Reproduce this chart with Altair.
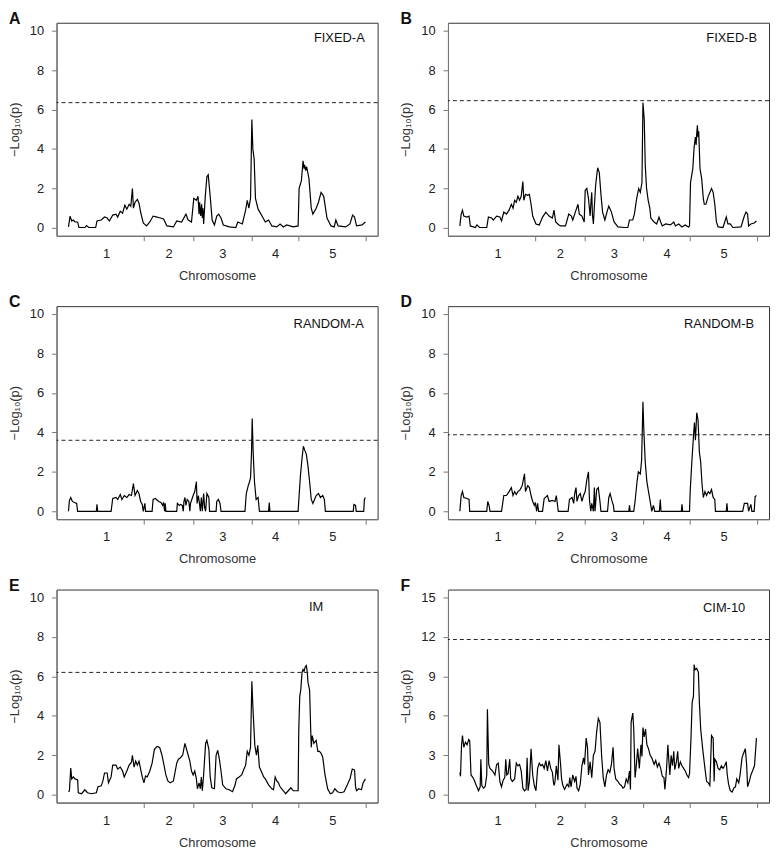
import altair as alt
import pandas as pd

FONT = "Liberation Sans"
CHROM_NAMES = ["1", "2", "3", "4", "5"]
CHROM_LEN_CM = [115, 75, 89, 72, 102]

# (cumulative position in cM, -log10 p)
FIXED_A = [(0,0.05),(2.5,0.6),(5,0.35),(7.5,0.4),(10,0.3),(14,0.3),(16,0.02),(25,0.02),(27.5,0.12),(31,0.02),
 (41.5,0.02),(43.5,0.35),(50,0.4),(55,0.55),(59,0.5),(62.5,0.35),(67.5,0.65),(72.5,0.7),(75,0.55),(79,0.85),
 (82.5,0.75),(86,1.15),(89,0.95),(92.5,1.2),(95,1.1),(97.5,2.0),(99,1.0),(101.5,1.3),(105,1.45),(107.5,1.25),
 (110,0.8),(114,0.25),(119,0.1),(124,0.3),(129,0.6),(135,0.55),(145,0.45),(150,0.1),(160,0.05),(165,0.35),
 (172.5,0.3),(179,0.7),(182.5,0.4),(187.5,0.3),(191,1.5),(195,1.4),(197.5,1.6),(199,0.7),(200,1.3),(201.5,0.6),
 (203,1.2),(204,0.5),(205,1.0),(206,0.2),(208.5,1.6),(211,2.6),(213,2.7),(216,1.6),(219,0.4),(222.5,0.15),
 (226,0.6),(229,0.7),(232.5,0.5),(236,0.15),(245,0.05),(255,0.02),(258,0.3),(265,0.2),(270,0.9),(272.5,1.4),
 (275,1.0),(277.5,1.5),(279.5,5.5),(281,4.0),(283,3.5),(285,1.5),(289,0.95),(295,0.6),(300,0.3),(305,0.4),
 (310,0.1),(317.5,0.05),(322.5,0.2),(327.5,0.05),(332.5,0.15),(342.5,0.05),(350,0.1),(351.5,2.0),(355,2.4),(357.5,3.4),
 (359,3.0),(360,3.2),(361.5,2.9),(363,3.1),(366.5,2.5),(370,1.0),(372.5,0.7),(377.5,1.0),(381,1.3),(385,1.8),
 (389,1.6),(394,0.5),(400,0.1),(405,0.05),(407.5,0.4),(411,0.1),(422.5,0.05),(429,0.2),(433,0.65),(436,0.55),
 (439,0.1),(447.5,0.15),(452.5,0.3)]

FIXED_B = [(0,0.1),(2,0.7),(4,0.9),(6,0.6),(11,0.55),(14,0.6),(16,0.1),(23.5,0.02),(26,0.15),(30,0.02),
 (41,0.02),(43.5,0.55),(48.5,0.5),(51,0.4),(56,0.6),(61,0.55),(63.5,0.35),(67,0.8),(71,0.7),(75,0.9),
 (78.5,1.2),(81,1.0),(83.5,1.4),(86,1.3),(88.5,1.6),(91,1.4),(93.5,1.6),(96,2.35),(97.5,1.4),(100,1.7),
 (103.5,1.65),(106,1.7),(108.5,1.2),(111,0.6),(116,0.2),(121,0.15),(126,0.55),(131,0.8),(136,0.6),(141,0.5),
 (143.5,0.9),(146,0.3),(151,0.15),(153.5,0.1),(161,0.1),(166,0.7),(170,0.6),(172,0.4),(176,0.8),(180,1.2),
 (182,0.7),(186,0.6),(189.5,0.3),(191,1.9),(193.5,2.0),(196,1.5),(198.5,0.6),(200,1.4),(201,1.8),(202,0.7),
 (203.5,0.2),(205,1.1),(207,2.2),(210,3.05),(212.5,2.8),(215,1.7),(217.5,0.8),(221,0.4),(225,0.9),(227,1.1),
 (231,0.8),(235,0.3),(241,0.05),(251,0.02),(256,0.02),(258.5,0.4),(263.5,0.4),(266,0.7),(269.5,1.5),(272.5,2.0),
 (275,1.8),(277.5,2.3),(279,6.35),(281,5.5),(282.5,3.2),(284.5,2.0),(287,1.4),(289.5,1.0),(291,0.5),(296,0.3),
 (300,0.2),(303.5,0.55),(306,0.3),(308.5,0.1),(313.5,0.2),(321,0.15),(326,0.3),(328.5,0.1),(333.5,0.2),(338.5,0.05),
 (343.5,0.15),(348.5,0.05),(350,0.1),(351.5,2.3),(355,3.0),(357,4.1),(359,4.6),(360,4.2),(361,4.8),(362,5.2),
 (363,4.6),(364,4.9),(366,3.0),(368.5,2.5),(371,1.5),(372.5,1.2),(375,1.2),(378.5,1.6),(383.5,2.0),(386,1.8),
 (388.5,1.2),(391,0.3),(393.5,0.05),(401,0.02),(406,0.55),(408.5,0.2),(412,0.2),(416,0.02),(428.5,0.05),(433.5,0.6),
 (436,0.8),(438.5,0.7),(440,0.1),(443.5,0.2),(448.5,0.25),(452,0.35)]

RANDOM_A = [(0,0),(1.5,0.55),(3.5,0.7),(6,0.5),(9,0.45),(12.5,0.4),(14,0),(42.5,0),(43.5,0.35),(44.5,0),
 (65,0),(67.5,0.65),(72.5,0.7),(75,0.6),(79,0.85),(81.5,0.6),(85,0.8),(89,0.7),(92.5,0.85),(96,0.8),
 (99,1.4),(101.5,0.8),(105,1.05),(107.5,0.9),(110,0.5),(112.5,0.35),(114,0),(116.5,0.4),(117.5,0),(127.5,0),
 (129,0.6),(132.5,0.65),(137.5,0.5),(141,0.45),(143.5,0.3),(145,0.45),(146.5,0),(147.5,0.4),(148.5,0),(165,0),
 (166,0.4),(169,0.3),(171,0.35),(173.5,0.3),(175,0),(176,0.5),(177.5,0.7),(179,0.3),(181,0.6),(183.5,0.5),
 (185,0),(186,0.4),(188,0.6),(190,0.8),(192.5,1.0),(195,1.5),(196,0.4),(198,0.8),(200,0.3),(201,0),
 (202.5,0.7),(204,0),(206,0.9),(207.5,0.2),(209,0),(211,0.9),(214,0.7),(215,0),(225,0),(226,0.5),
 (228.5,0.6),(231,0.4),(232.5,0),(269,0),(271,0.9),(274,1.3),(276,1.5),(277.5,1.7),(279,3.0),(280,4.7),
 (281.5,3.0),(283.5,1.5),(286,0.6),(289,0.7),(291,0),(305,0),(306,0.45),(307,0),(350,0),(351.5,0.8),
 (353.5,1.8),(356,2.7),(358,3.3),(360,3.1),(362.5,2.9),(365,2.3),(367.5,1.5),(370,0.6),(372.5,0.4),(375,0.6),
 (377.5,0.8),(381,0.9),(384,0.7),(387.5,0.8),(390,0.6),(391.5,0),(434,0),(435,0.35),(437.5,0.3),(438.5,0),
 (450,0),(451,0.6),(452.5,0.7)]

RANDOM_B = [(0,0),(2,0.8),(4,1.0),(6,0.7),(11,0.65),(14,0.6),(15,0),(41,0),(42.5,0.5),(44.5,0.3),
 (46,0),(63.5,0),(67,0.8),(71,0.8),(75,1.0),(78.5,1.2),(81,0.8),(83.5,1.0),(86,0.85),(88.5,1.0),
 (92,1.1),(95,1.3),(98.5,1.9),(100,1.0),(103.5,1.3),(106,1.2),(108.5,0.8),(111,0.5),(113.5,0.3),(115,0.45),
 (117,0),(118.5,0.4),(120,0),(126,0),(128.5,0.65),(133.5,0.8),(136,0.5),(141,0.55),(145,0.5),(147,0.8),
 (148.5,0.4),(150,0),(165,0),(167,0.6),(171,0.7),(173.5,0.4),(175,0.9),(177,1.2),(178.5,0.5),(181,0.8),
 (183.5,0.9),(186,0.5),(188.5,0.8),(191,1.0),(193.5,1.6),(196,2.0),(197.5,0.6),(199.5,0),(201,0.4),(203.5,0),
 (205,1.2),(206,0),(208.5,1.1),(211,1.2),(213.5,0.5),(215,0),(225,0),(227,0.7),(229,0.9),(232,0.5),
 (234,0.3),(235,0),(257.5,0),(258.5,0.3),(259.5,0),(265,0),(267,0.5),(270,1.5),(272,2.0),(275,1.9),
 (277,2.6),(279,5.55),(280.5,4.0),(282.5,2.5),(285,1.5),(287.5,1.0),(289.5,0.6),(291,0.3),(292.5,0),(295,0.3),
 (297,0),(304,0),(305.5,0.6),(306.5,0),(337.5,0),(338.5,0.35),(339.5,0),(350,0),(351,1.0),(353.5,2.5),
 (356,3.8),(357.5,4.5),(359,3.6),(361,5.0),(363,4.6),(365,3.0),(367,2.5),(369,1.4),(371,0.7),(373.5,1.0),
 (376,0.8),(378.5,1.0),(381,0.9),(383.5,1.1),(386,0.7),(388.5,0.6),(389.5,0),(406,0),(407,0.4),(408,0),
 (431,0),(433.5,0.4),(438.5,0.4),(440,0),(443.5,0.35),(445,0),(448.5,0),(450,0.75),(452,0.8)]

IM = [(0,0.15),(1.5,0.2),(3.5,1.35),(5,0.8),(7.5,0.9),(10,0.8),(14,0.75),(15,0.1),(20,0.05),(25,0.25),
 (29,0.1),(35,0.05),(42.5,0.1),(45,0.4),(50,0.45),(52.5,0.7),(55,1.1),(59,1.1),(61,0.6),(65,0.9),
 (67.5,1.5),(72.5,1.5),(75,1.3),(79,1.4),(82.5,1.2),(85,0.9),(89,1.2),(92.5,1.5),(96,1.65),(97.5,2.0),
 (100,1.4),(102.5,1.7),(105,1.5),(107.5,1.7),(110,1.3),(112.5,0.9),(115,0.6),(117.5,0.95),(120,0.9),(124,1.2),
 (127.5,1.6),(131,2.3),(135,2.45),(139,2.4),(142.5,2.0),(145,1.6),(148.5,1.0),(151.5,0.7),(155,0.6),(160,0.7),
 (165,1.6),(167.5,1.8),(170,1.85),(174,2.0),(177.5,2.6),(180,2.3),(182.5,2.0),(185,1.7),(187.5,1.2),(190,1.0),
 (192.5,1.2),(195,0.8),(196.5,0.3),(199,0.6),(201,0.3),(202.5,0.9),(204,0.2),(206,1.0),(209,2.6),(211,2.75),
 (214,2.3),(216,0.9),(218.5,0.35),(222.5,0.3),(225,2.0),(227.5,2.25),(230,1.8),(232.5,1.2),(235,0.5),(240,0.3),
 (245,0.25),(250,0.15),(254,0.5),(256,0.8),(260,0.9),(264,1.0),(267.5,1.3),(270,1.5),(272.5,2.2),(275,2.0),
 (277.5,2.4),(279.5,5.75),(281,4.5),(282.5,3.5),(284,2.5),(286.5,2.0),(288.5,2.5),(291,1.4),(295,1.1),(297.5,0.9),
 (300,0.8),(305,0.5),(310,0.3),(312.5,0.25),(315,0.9),(317.5,0.7),(320,0.6),(322.5,0.4),(325,0.3),(327.5,0.2),
 (331,0.05),(335,0.2),(339,0.35),(342.5,0.2),(347.5,0.2),(350,0.2),(351,3.3),(352.5,5.0),(354,5.3),(356,6.2),
 (357.5,6.35),(359,6.25),(361,6.5),(362.5,6.55),(364,6.2),(365,5.7),(367.5,5.3),(369,3.5),(370,2.4),(371.5,3.0),
 (374,2.6),(377.5,2.75),(380,2.2),(382.5,2.2),(385,2.1),(387.5,1.9),(391,1.0),(395,0.3),(399,0.05),(402.5,0.1),
 (406,0.3),(410,0.15),(415,0.1),(420,0.15),(425,0.5),(429,0.8),(432.5,1.3),(436,1.25),(437.5,0.4),(439,0.2),
 (442.5,0.3),(446.5,0.25),(449,0.6),(452.5,0.8)]

CIM_10 = [(0,1.7),(1,1.4),(2.5,3.7),(4,4.5),(6,3.6),(8.5,4.0),(11,3.8),(13.5,4.2),(15,4.1),(17,1.5),
 (20,1.3),(22,1.1),(25,0.7),(28.5,0.3),(31,0.6),(32,2.7),(33.5,0.7),(36,0.5),(38.5,0.6),(41,1.5),
 (42,6.5),(44,2.3),(46,2.0),(50,1.8),(53.5,1.5),(56,2.3),(58.5,2.4),(61,1.0),(63.5,0.6),(66,1.1),
 (68.5,1.3),(70,2.7),(71.5,1.5),(73.5,1.6),(76,2.7),(77.5,1.2),(80,1.0),(83.5,1.2),(86,2.4),(88.5,2.2),
 (91,2.3),(93.5,1.8),(96,0.5),(98.5,0.3),(101,0.4),(102.5,2.8),(104,0.3),(106,1.0),(108.5,3.5),(111,1.5),
 (113.5,0.7),(116,0.3),(118.5,2.0),(121,2.4),(123.5,2.2),(126,2.3),(128.5,2.0),(131,2.6),(133.5,1.8),(136,2.6),
 (138.5,2.0),(141,1.7),(142.5,1.0),(143.5,0.7),(145,1.0),(147,2.2),(149.5,1.1),(151,3.8),(153.5,2.3),(155,1.2),
 (157,0.7),(159.5,0.4),(163.5,0.8),(166,0.6),(167.5,1.3),(169.5,0.6),(172,1.5),(175,1.0),(177,1.4),(178.5,0.5),
 (181,0.3),(183.5,0.8),(186,2.2),(188.5,2.8),(190,2.3),(192.5,4.3),(194.5,3.6),(196,1.5),(198.5,2.5),(201,1.3),
 (203.5,3.0),(206,3.3),(208.5,4.8),(211,5.8),(213.5,5.5),(216,3.0),(218.5,1.3),(221,0.6),(223.5,1.5),(226,1.9),
 (228.5,1.7),(231,2.3),(233.5,3.6),(235,2.0),(237.5,1.2),(241,1.0),(243.5,0.8),(246,0.7),(248.5,0.5),(251,0.6),
 (253.5,1.2),(256,0.9),(258.5,1.8),(260,0.4),(261,5.5),(263.5,6.2),(265,5.0),(267,1.3),(268.5,2.0),(271,3.5),
 (273.5,2.0),(276,3.8),(277.5,2.9),(279,5.1),(281,4.4),(283,5.0),(285,3.8),(287.5,3.5),(290,3.0),(292.5,2.8),
 (296,2.3),(298.5,2.6),(301,2.1),(303.5,2.4),(306,2.0),(308.5,1.4),(311,1.3),(312.5,0.4),(315,2.0),(317,3.8),
 (318.5,2.6),(320,1.5),(322,3.0),(324,2.2),(326,3.3),(327.5,1.9),(330,2.5),(332,3.3),(333.5,2.0),(336,2.5),
 (338.5,2.2),(341,2.0),(343.5,1.8),(346,1.5),(348.5,1.3),(350,1.6),(352,4.0),(354,7.0),(356,7.5),(357,9.9),
 (358.5,9.5),(361,9.6),(363.5,9.3),(365,7.0),(367,5.0),(370,3.5),(373.5,2.0),(376,1.0),(378.5,0.9),(381,0.7),
 (383.5,4.5),(386,4.3),(387.5,1.0),(388.5,2.7),(391,2.5),(393.5,2.0),(396,1.9),(398.5,2.2),(401,2.0),(403.5,2.2),
 (406,2.5),(407.5,1.5),(409.5,0.8),(412,0.3),(415,0.2),(417.5,0.5),(420,0.6),(422,1.2),(425,0.9),(427,1.5),
 (430,2.8),(432,3.1),(435,3.5),(437,2.3),(438.5,0.6),(441,1.0),(443.5,1.5),(446,1.8),(449,2.2),(452,4.3)]

PANEL_LETTERS = ["A", "B", "C", "D", "E", "F"]
PANEL_NAMES = ["FIXED-A", "FIXED-B", "RANDOM-A", "RANDOM-B", "IM", "CIM-10"]
PANEL_DATA = [FIXED_A, FIXED_B, RANDOM_A, RANDOM_B, IM, CIM_10]
THRESHOLDS = [6.35, 6.45, 3.6, 3.88, 6.2, 11.8]
Y_MAX = [10, 10, 10, 10, 10, 15]
Y_STEP = [2, 2, 2, 2, 2, 3]

# layout / style (not data)
W, H = 324, 215
LABEL_POS = [(13, "right", 15), (12, "right", 15), (14, "right", 18),
             (15, "right", 18), (62, "center", 18), (24, "right", 19)]

ends = []
acc = 0
for L in CHROM_LEN_CM:
    acc += L
    ends.append(acc)
starts = [0] + ends[:-1]
centers = [(s + e) / 2 for s, e in zip(starts, ends)]
total = ends[-1]
xpad = total * 0.04
XDOM = [-xpad, total + xpad]

label_expr = "''"
for c, n in reversed(list(zip(centers, CHROM_NAMES))):
    label_expr = f"datum.value == {c} ? '{n}' : " + label_expr
center_list = "[" + ",".join(str(c) for c in centers) + "]"


def panel(i):
    df = pd.DataFrame(PANEL_DATA[i], columns=["pos", "lod"])
    ymax, ystep = Y_MAX[i], Y_STEP[i]
    ypad = ymax * 0.04
    yscale = alt.Scale(domain=[-ypad, ymax + ypad], nice=False, zero=False)
    xscale = alt.Scale(domain=XDOM, nice=False, zero=False)
    xaxis = alt.Axis(
        values=ends + centers, labelExpr=label_expr, title="Chromosome",
        tickOpacity={"condition": {"test": f"indexof({center_list}, datum.value) >= 0", "value": 0}, "value": 1},
        labelFlush=False, labelOverlap=False, labelPadding=7, titlePadding=9,
    )
    yaxis = alt.Axis(values=list(range(0, ymax + 1, ystep)), title="\u2212Log\u2081\u2080(p)",
                     labelPadding=8, titlePadding=8, labelFlush=False)
    line = alt.Chart(df).mark_line(color="black", strokeWidth=1.2).encode(
        x=alt.X("pos:Q", scale=xscale, axis=xaxis),
        y=alt.Y("lod:Q", scale=yscale, axis=yaxis),
    )
    rule = alt.Chart(pd.DataFrame({"lod": [THRESHOLDS[i]]})).mark_rule(
        color="#222", strokeDash=[4, 3], strokeWidth=1
    ).encode(y=alt.Y("lod:Q", scale=yscale))
    dx, align, dy = LABEL_POS[i]
    label = alt.Chart(pd.DataFrame({"k": [0]})).mark_text(
        text=PANEL_NAMES[i], align=align, baseline="middle", font=FONT, fontSize=13, color="#111"
    ).encode(x=alt.value(W - dx), y=alt.value(dy))
    letter = alt.Chart(pd.DataFrame({"k": [0]})).mark_text(
        text=PANEL_LETTERS[i], align="left", baseline="top", font=FONT, fontSize=16,
        fontWeight="bold", color="#111"
    ).encode(x=alt.value(-48), y=alt.value(-12))
    return alt.layer(line, rule, label, letter).properties(width=W, height=H)


chart = alt.concat(
    *[panel(i) for i in range(6)], columns=2,
    spacing={"row": 71, "column": 71}, bounds="flush",
).properties(
    padding={"left": 0, "top": -2, "right": 0, "bottom": 0}
).configure_view(
    stroke="#333", strokeWidth=1
).configure_axis(
    labelFont=FONT, titleFont=FONT, labelFontSize=13, titleFontSize=13,
    titleFontWeight="normal", labelColor="#222", titleColor="#333",
    tickColor="#777", domainColor="#777", tickSize=5, grid=False,
)

chart.save("out.html", embed_options={"renderer": "svg", "actions": False})
